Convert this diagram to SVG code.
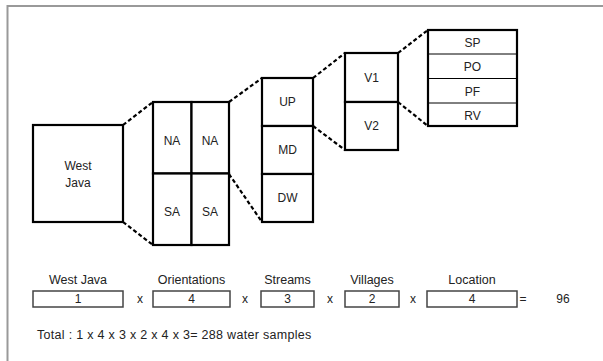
<svg xmlns="http://www.w3.org/2000/svg" width="603" height="361" viewBox="0 0 603 361">
<style>
.box{fill:#fff;stroke:#000;stroke-width:2.2}
.sbox{fill:#fff;stroke:#444;stroke-width:1.5}
.dash{fill:none;stroke:#000;stroke-width:2.2;stroke-dasharray:4 2.5}
text{font-family:"Liberation Sans",Arial,sans-serif;font-size:12px;fill:#222;text-anchor:middle}
.lab{font-size:12.5px}
.l{text-anchor:start;font-size:12.5px;letter-spacing:0.3px}
</style>
<rect width="603" height="361" fill="#fff"/>
<path d="M7.5,361 V6 H603" fill="none" stroke="#999" stroke-width="2"/>
<g id="connectors">
<line class="dash" x1="123" y1="125" x2="153" y2="102"/>
<line class="dash" x1="123" y1="222" x2="153" y2="245"/>
<line class="dash" x1="229" y1="102" x2="262" y2="78"/>
<line class="dash" x1="229" y1="174" x2="262" y2="222"/>
<line class="dash" x1="313" y1="78" x2="345" y2="53"/>
<line class="dash" x1="313" y1="126" x2="345" y2="150"/>
<line class="dash" x1="398" y1="53" x2="428" y2="30"/>
<line class="dash" x1="398" y1="102" x2="428" y2="126"/>
</g>
<g id="westjava">
<rect class="box" x="33" y="125" width="90" height="97"/>
<text x="78" y="170">West</text>
<text x="78" y="187">Java</text>
</g>
<g id="orientations">
<rect class="box" x="153" y="102" width="38.5" height="71.5"/>
<rect class="box" x="191.5" y="102" width="37.5" height="71.5"/>
<rect class="box" x="153" y="173.5" width="38.5" height="71.5"/>
<rect class="box" x="191.5" y="173.5" width="37.5" height="71.5"/>
<text x="172" y="145">NA</text>
<text x="210" y="145">NA</text>
<text x="172" y="216">SA</text>
<text x="210" y="216">SA</text>
</g>
<g id="streams">
<rect class="box" x="262" y="78" width="51" height="48"/>
<rect class="box" x="262" y="126" width="51" height="48"/>
<rect class="box" x="262" y="174" width="51" height="48"/>
<text x="287.5" y="106">UP</text>
<text x="287.5" y="154">MD</text>
<text x="287.5" y="202">DW</text>
</g>
<g id="villages">
<rect class="box" x="345" y="53" width="53" height="49"/>
<rect class="box" x="345" y="102" width="53" height="48"/>
<text x="371.5" y="82">V1</text>
<text x="371.5" y="130">V2</text>
</g>
<g id="locations">
<rect class="box" x="428" y="30" width="89" height="96"/>
<line stroke="#000" stroke-width="1" x1="428" y1="54" x2="517" y2="54"/>
<line stroke="#000" stroke-width="1" x1="428" y1="78.5" x2="517" y2="78.5"/>
<line stroke="#000" stroke-width="1" x1="428" y1="103" x2="517" y2="103"/>
<text x="472.5" y="47">SP</text>
<text x="472.5" y="71">PO</text>
<text x="472.5" y="96">PF</text>
<text x="472.5" y="120">RV</text>
</g>
<g id="formula">
<text class="lab" x="78" y="284">West Java</text>
<rect class="sbox" x="33" y="291" width="90" height="16"/>
<text x="78" y="303">1</text>
<text x="140" y="303">x</text>
<text class="lab" x="191.5" y="284">Orientations</text>
<rect class="sbox" x="153" y="291" width="77" height="16"/>
<text x="191.5" y="303">4</text>
<text x="245" y="303">x</text>
<text class="lab" x="287.5" y="284">Streams</text>
<rect class="sbox" x="261" y="291" width="53" height="16"/>
<text x="287.5" y="303">3</text>
<text x="330" y="303">x</text>
<text class="lab" x="372" y="284">Villages</text>
<rect class="sbox" x="345" y="291" width="54" height="16"/>
<text x="372" y="303">2</text>
<text x="413" y="303">x</text>
<text class="lab" x="472" y="284">Location</text>
<rect class="sbox" x="427" y="291" width="90" height="16"/>
<text x="472" y="303">4</text>
<text x="523" y="303">=</text>
<text x="563" y="303">96</text>
<text class="l" x="37" y="339">Total : 1 x 4 x 3 x 2 x 4 x 3= 288 water samples</text>
</g>
</svg>
